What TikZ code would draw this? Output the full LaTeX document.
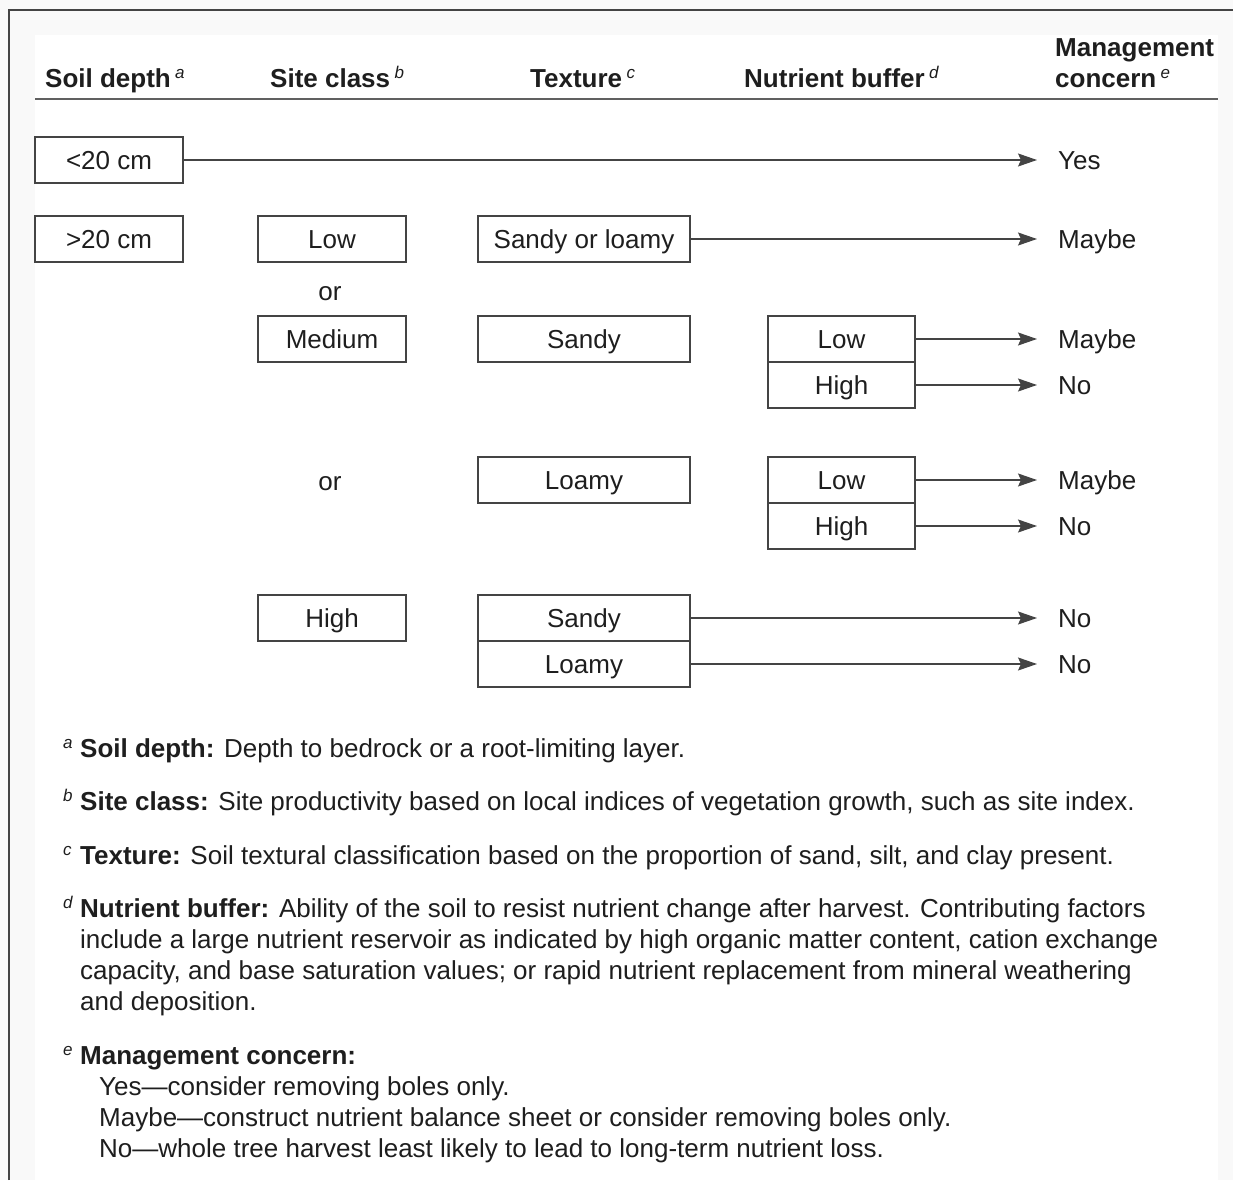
\documentclass[tikz,border=0pt]{standalone}
\usepackage{fontspec}
\setmainfont{Liberation Sans}
\usetikzlibrary{arrows.meta}
\definecolor{ink}{HTML}{1E1E1E}
\definecolor{edge}{HTML}{444444}
\newcommand\supmark[1]{\raisebox{9pt}{\fontsize{17}{17}\selectfont\mdseries\itshape #1}}
\begin{document}
\begin{tikzpicture}[x=1pt,y=-1pt,
 every node/.style={font=\fontsize{26}{31}\selectfont, text=ink},
 box/.style={draw=edge, line width=1.3pt, minimum width=148pt, minimum height=46pt, inner sep=0pt, text height=18pt, text depth=0pt},
 wbox/.style={box, minimum width=212pt},
 outc/.style={anchor=west, inner xsep=21pt, inner ysep=0pt, text height=18pt, text depth=0pt},
 arr/.style={draw=edge, line width=1.3pt, -{Stealth[length=19pt,width=13pt,inset=3pt]}},
 hd/.style={font=\fontsize{26}{30}\selectfont\bfseries, anchor=base west, inner sep=0pt},
 fn/.style={anchor=base west, inner sep=0pt},
 ortext/.style={anchor=base, inner sep=0pt},
]
\useasboundingbox (0,0) rectangle (1233,1180);
\fill[gray!5] (0,0) rectangle (1233,1180);
\fill[white] (35,35) rectangle (1218,1180);
\draw[edge, line width=1.5pt] (9,1180) -- (9,10) -- (1233,10);

% header
\node[hd] (h1) at (45,88) {Soil depth\,\supmark{a}};
\node[hd] (h2) at (270,88) {Site class\,\supmark{b}};
\node[hd] (h3) at (530,88) {Texture\,\supmark{c}};
\node[hd] (h4) at (744,88) {Nutrient buffer\,\supmark{d}};
\node[hd] (h5a) at (1055,57) {Management};
\node[hd] (h5b) at (1055,88) {concern\,\supmark{e}};
\draw[edge!85, line width=1.6pt] (35,99) -- (1218,99);

% soil depth
\node[box] (d1) at (109,160) {<20 cm};
\node[box] (d2) at (109,239) {>20 cm};

% site class
\node[box] (s1) at (332,239) {Low};
\node[ortext] (or1) at (330,300) {or};
\node[box] (s2) at (332,339) {Medium};
\node[ortext] (or2) at (330,490) {or};
\node[box] (s3) at (332,618) {High};

% texture
\node[wbox] (t1) at (584,239) {Sandy or loamy};
\node[wbox] (t2) at (584,339) {Sandy};
\node[wbox] (t3) at (584,480) {Loamy};
\node[wbox] (t4) at (584,618) {Sandy};
\node[wbox] (t5) at (584,664) {Loamy};

% nutrient buffer
\node[box, minimum width=147pt] (n1) at (841.5,339) {Low};
\node[box, minimum width=147pt] (n2) at (841.5,385) {High};
\node[box, minimum width=147pt] (n3) at (841.5,480) {Low};
\node[box, minimum width=147pt] (n4) at (841.5,526) {High};

% outcomes
\node[outc] (o1) at (1037,160) {Yes};
\node[outc] (o2) at (1037,239) {Maybe};
\node[outc] (o3) at (1037,339) {Maybe};
\node[outc] (o4) at (1037,385) {No};
\node[outc] (o5) at (1037,480) {Maybe};
\node[outc] (o6) at (1037,526) {No};
\node[outc] (o7) at (1037,618) {No};
\node[outc] (o8) at (1037,664) {No};

\draw[arr] (d1.east) -- (o1.west);
\draw[arr] (t1.east) -- (o2.west);
\draw[arr] (n1.east) -- (o3.west);
\draw[arr] (n2.east) -- (o4.west);
\draw[arr] (n3.east) -- (o5.west);
\draw[arr] (n4.east) -- (o6.west);
\draw[arr] (t4.east) -- (o7.west);
\draw[arr] (t5.east) -- (o8.west);

% footnotes
\node[fn] (fa) at (63,757) {\supmark{a}};
\node[fn] (fat) at (80,757) {\textbf{Soil depth:} Depth to bedrock or a root-limiting layer.};
\node[fn] (fb) at (63,810) {\supmark{b}};
\node[fn] (fbt) at (80,810) {\textbf{Site class:} Site productivity based on local indices of vegetation growth, such as site index.};
\node[fn] (fc) at (63,864) {\supmark{c}};
\node[fn] (fct) at (80,864) {\textbf{Texture:} Soil textural classification based on the proportion of sand, silt, and clay present.};
\node[fn] (fd) at (63,917) {\supmark{d}};
\node[fn] (fd1) at (80,917) {\textbf{Nutrient buffer:} Ability of the soil to resist nutrient change after harvest. Contributing factors};
\node[fn] (fd2) at (80,948) {include a large nutrient reservoir as indicated by high organic matter content, cation exchange};
\node[fn] (fd3) at (80,979) {capacity, and base saturation values; or rapid nutrient replacement from mineral weathering};
\node[fn] (fd4) at (80,1010) {and deposition.};
\node[fn] (fe) at (63,1064) {\supmark{e}};
\node[fn] (fet) at (80,1064) {\textbf{Management concern:}};
\node[fn] (fe1) at (99,1095) {Yes---consider removing boles only.};
\node[fn] (fe2) at (99,1126) {Maybe---construct nutrient balance sheet or consider removing boles only.};
\node[fn] (fe3) at (99,1157) {No---whole tree harvest least likely to lead to long-term nutrient loss.};
\end{tikzpicture}
\end{document}
